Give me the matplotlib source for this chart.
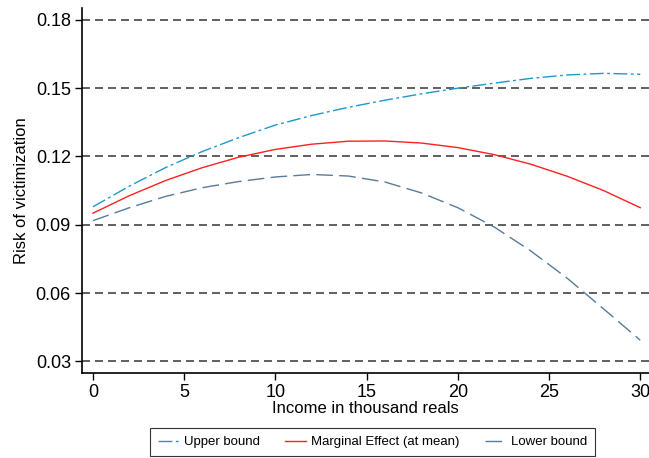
import matplotlib
matplotlib.use('Agg')
import matplotlib.pyplot as plt

plt.rcParams['font.family'] = ['Liberation Sans', 'DejaVu Sans']

# Доход (тыс. реалов) и оценки риска
income = [0, 2, 4, 6, 8, 10, 12, 14, 16, 18, 20, 22, 24, 26, 28, 30]
upper = [0.0979, 0.1070, 0.1152, 0.1222, 0.1283, 0.1338, 0.1380, 0.1416,
         0.1447, 0.1475, 0.1500, 0.1522, 0.1543, 0.1558, 0.1565, 0.1561]
marginal = [0.0951, 0.1028, 0.1095, 0.1151, 0.1197, 0.1231, 0.1254, 0.1267,
            0.1268, 0.1259, 0.1239, 0.1208, 0.1166, 0.1113, 0.1050, 0.0975]
lower = [0.0918, 0.0975, 0.1025, 0.1063, 0.1090, 0.1110, 0.1121, 0.1114,
         0.1088, 0.1040, 0.0975, 0.0890, 0.0785, 0.0665, 0.0530, 0.0393]
yticks = [0.03, 0.06, 0.09, 0.12, 0.15, 0.18]
xticks = [0, 5, 10, 15, 20, 25, 30]

fig = plt.figure(figsize=(6.49, 4.58), dpi=100)
ax = fig.add_axes([0.1264, 0.1856, 0.8736, 0.7969])

for y in yticks:
    ax.axhline(y, color='#444444', lw=1.2, dashes=(4.8, 3.0), zorder=1)

ax.plot(income, upper, color='#1f98c8', lw=1.0, dashes=(10, 2.5, 2.0, 2.5),
        label='Upper bound', zorder=3)
ax.plot(income, marginal, color='#ff2020', lw=1.0, label='Marginal Effect (at mean)', zorder=3)
ax.plot(income, lower, color='#587b98', lw=1.0, dashes=(12, 4.5),
        label='Lower bound', zorder=3)

ax.set_xlim(-0.6, 30.48)
ax.set_ylim(0.0249, 0.1852)
ax.set_xticks(xticks)
ax.set_yticks(yticks)
ax.set_yticklabels(['%.2f' % v for v in yticks])
ax.tick_params(direction='out', length=5, width=1, labelsize=13, colors='black', pad=3)
ax.spines['top'].set_visible(False)
ax.spines['right'].set_visible(False)
ax.spines['left'].set_linewidth(1.2)
ax.spines['bottom'].set_linewidth(1.2)

ax.set_xlabel('Income in thousand reals', fontsize=12, labelpad=0)
ax.set_ylabel('Risk of victimization', fontsize=12, labelpad=5)

handles, labels = ax.get_legend_handles_labels()
leg = fig.legend(handles, labels, loc='upper center', bbox_to_anchor=(0.574, 0.0655),
                 ncol=3, fontsize=9.5, frameon=True, fancybox=False,
                 edgecolor='black', handlelength=1.6, handletextpad=0.4,
                 columnspacing=1.9, borderpad=0.6, borderaxespad=0)
leg.get_frame().set_linewidth(0.8)

fig.savefig('out.png', dpi=100)
